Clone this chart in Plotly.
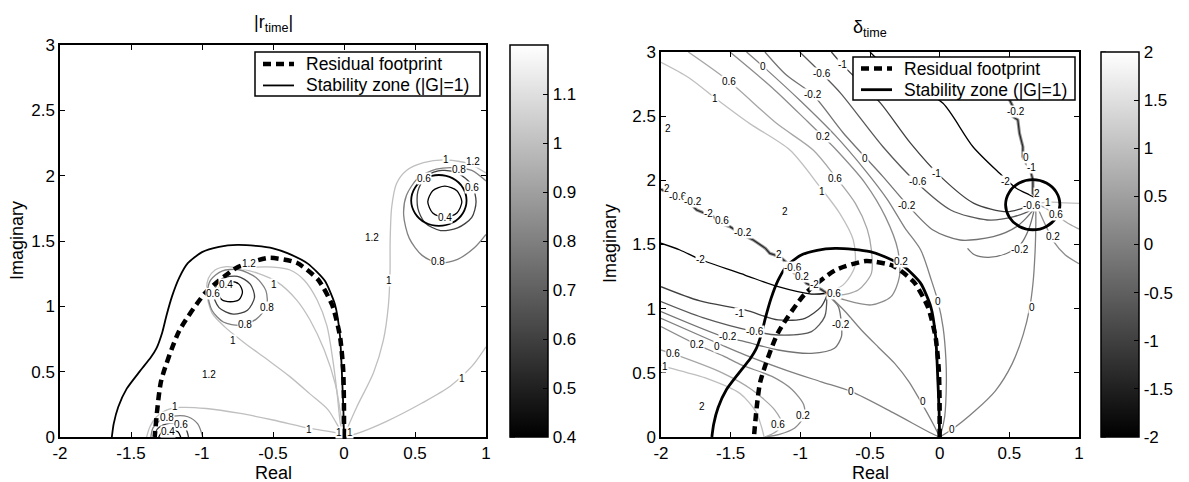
import plotly.graph_objects as go
from plotly.colors import sample_colorscale

FONT = "Liberation Sans, Arial, Helvetica, sans-serif"
GRAY = [[0.0, "rgb(0,0,0)"], [1.0, "rgb(255,255,255)"]]
W, H = 1189, 482

# ---------------- shared curves ----------------
# residual footprint of the spatial operator
footprint_re = [0.0, -0.0004, -0.006, -0.029, -0.083, -0.183, -0.333, -0.528, -0.75, -0.971, -1.161, -1.288, -1.333]
footprint_im = [0.0, 0.262, 0.522, 0.776, 1.010, 1.205, 1.333, 1.371, 1.299, 1.110, 0.811, 0.428, 0.0]

# stability boundary |G| = 1 (main lobe)
stab_re = [-1.635, -1.622, -1.59, -1.53, -1.44, -1.36, -1.32, -1.28, -1.25, -1.21, -1.16, -1.10, -1.00, -0.88,
           -0.75, -0.62, -0.50, -0.394, -0.255, -0.136, -0.064, -0.029, -0.012, -0.004, 0.0]
stab_im = [0.0, 0.10, 0.23, 0.37, 0.50, 0.61, 0.68, 0.80, 0.93, 1.08, 1.22, 1.33, 1.415, 1.455,
           1.47, 1.462, 1.444, 1.405, 1.327, 1.197, 1.016, 0.782, 0.418, 0.2, 0.0]
# stability boundary: small island around the upper right zero
island_re = [0.863, 0.837, 0.766, 0.668, 0.571, 0.50, 0.473, 0.50, 0.571, 0.668, 0.766, 0.837, 0.863]
island_im = [1.81, 1.908, 1.979, 2.005, 1.979, 1.908, 1.81, 1.713, 1.641, 1.615, 1.641, 1.713, 1.81]

legend_names = ["Residual footprint", "Stability zone (|G|=1)"]

# ---------------- |r_time| iso-lines (Real, Imag) ----------------
r1_lower = [(0.0, 0.0), (-0.03, 0.025), (-0.24, 0.066), (-0.5, 0.13), (-0.73, 0.18), (-0.97, 0.218),
            (-1.155, 0.226), (-1.25, 0.205), (-1.32, 0.155), (-1.366, 0.08), (-1.39, 0.0)]
r1_upper = [(0.0, 0.0), (-0.03, 0.06), (-0.112, 0.208), (-0.24, 0.33), (-0.381, 0.462), (-0.55, 0.6),
            (-0.7, 0.72), (-0.84, 0.843), (-0.93, 0.95), (-0.967, 1.10), (-0.955, 1.214), (-0.908, 1.278),
            (-0.826, 1.304), (-0.732, 1.291), (-0.6, 1.25), (-0.474, 1.189), (-0.333, 1.048),
            (-0.239, 0.895), (-0.139, 0.665), (-0.06, 0.4), (-0.02, 0.15), (0.0, 0.0)]
r1_inner = [(-0.732, 1.291), (-0.62, 1.30), (-0.5, 1.30), (-0.38, 1.278), (-0.28, 1.20), (-0.19, 1.05),
            (-0.12, 0.85), (-0.08, 0.6), (-0.05, 0.35), (-0.025, 0.1), (0.0, 0.0)]
r1_right = [(0.0, 0.0), (0.01, 0.03), (0.09, 0.23), (0.207, 0.49), (0.277, 0.74), (0.312, 1.0),
            (0.324, 1.25), (0.325, 1.5), (0.336, 1.76), (0.37, 1.94), (0.44, 2.04), (0.56, 2.1),
            (0.72, 2.12), (0.88, 2.09), (1.0, 2.02)]
r1_edge = [(0.0, 0.0), (0.1, 0.03), (0.3, 0.12), (0.55, 0.26), (0.75, 0.39), (0.9, 0.54), (1.0, 0.69)]

r08_lower = [(-1.36, 0.0), (-1.345, 0.07), (-1.29, 0.13), (-1.2, 0.16), (-1.1, 0.155), (-1.03, 0.1), (-0.995, 0.0)]
r08_upper = [(-0.96, 1.1), (-0.93, 0.97), (-0.85, 0.88), (-0.73, 0.855), (-0.62, 0.9), (-0.545, 1.0),
             (-0.55, 1.12), (-0.62, 1.22), (-0.74, 1.28), (-0.86, 1.27), (-0.94, 1.2), (-0.96, 1.1)]
r08_right = [(1.0, 1.96), (0.9, 2.04), (0.8, 2.06), (0.65, 2.05), (0.52, 1.98), (0.44, 1.85), (0.42, 1.7),
             (0.46, 1.52), (0.55, 1.39), (0.67, 1.33), (0.8, 1.36), (0.92, 1.45), (1.0, 1.55)]

r06_lower = [(-1.335, 0.0), (-1.315, 0.06), (-1.25, 0.1), (-1.17, 0.105), (-1.115, 0.065), (-1.095, 0.0)]
r06_upper = [(-0.92, 1.1), (-0.88, 0.99), (-0.78, 0.94), (-0.68, 0.97), (-0.63, 1.07), (-0.66, 1.17),
             (-0.75, 1.23), (-0.86, 1.21), (-0.92, 1.1)]
r06_right = [(0.93, 1.8), (0.9, 1.93), (0.8, 2.02), (0.69, 2.04), (0.58, 2.0), (0.52, 1.88), (0.52, 1.75),
             (0.57, 1.64), (0.68, 1.58), (0.8, 1.6), (0.9, 1.68), (0.93, 1.8)]

r04_lower = [(-1.305, 0.0), (-1.28, 0.04), (-1.22, 0.058), (-1.17, 0.04), (-1.15, 0.0)]
r04_upper = [(-0.89, 1.11), (-0.86, 1.05), (-0.80, 1.035), (-0.74, 1.05), (-0.715, 1.11), (-0.74, 1.17),
             (-0.80, 1.19), (-0.86, 1.17), (-0.89, 1.11)]
r04_right = [(0.83, 1.8), (0.795, 1.885), (0.71, 1.92), (0.625, 1.885), (0.59, 1.8), (0.625, 1.715),
             (0.71, 1.68), (0.795, 1.715), (0.83, 1.8)]

r_levels = [(1.0, r1_lower), (1.0, r1_upper), (1.0, r1_inner), (1.0, r1_right), (1.0, r1_edge),
            (0.8, r08_lower), (0.8, r08_upper), (0.8, r08_right),
            (0.6, r06_lower), (0.6, r06_upper), (0.6, r06_right),
            (0.4, r04_lower), (0.4, r04_upper), (0.4, r04_right)]

r_labels = [("1", -0.25, 0.06), ("1", -1.19, 0.232), ("1", -0.78, 0.74), ("1", -0.49, 1.17), ("1", 0.32, 1.2),
            ("1", 0.72, 2.12), ("1", 0.83, 0.45), ("1", -0.035, 0.035), ("1", 0.045, 0.035),
            ("0.8", -1.25, 0.148), ("0.6", -1.15, 0.095), ("0.4", -1.24, 0.04),
            ("0.8", -0.54, 0.99), ("0.8", -0.70, 0.86), ("0.6", -0.92, 1.10), ("0.4", -0.83, 1.17),
            ("1.2", -0.95, 0.48), ("1.2", 0.2, 1.53), ("1.2", 0.91, 2.11), ("1.2", -0.67, 1.33),
            ("0.8", 0.81, 2.05), ("0.8", 0.66, 1.34), ("0.6", 0.56, 1.98), ("0.6", 0.9, 1.91), ("0.4", 0.71, 1.68)]

# ---------------- delta_time iso-lines (Real, Imag) ----------------
d1_top = [(-2.0, 2.92), (-1.8, 2.8), (-1.61, 2.64), (-1.36, 2.44), (-1.075, 2.236), (-0.86, 1.95),
          (-0.717, 1.743), (-0.62, 1.535), (-0.609, 1.327), (-0.681, 1.197), (-0.777, 1.132), (-0.81, 1.12)]
d06_top = [(-1.804, 3.0), (-1.51, 2.77), (-1.171, 2.444), (-0.908, 2.236), (-0.749, 2.029), (-0.605, 1.821),
           (-0.52, 1.62), (-0.49, 1.457), (-0.49, 1.275), (-0.585, 1.145), (-0.72, 1.105), (-0.81, 1.115)]
d02_top = [(-1.505, 3.0), (-1.2, 2.72), (-0.95, 2.46), (-0.836, 2.34), (-0.741, 2.236), (-0.534, 1.977),
           (-0.39, 1.717), (-0.3, 1.457), (-0.289, 1.249), (-0.349, 1.094), (-0.49, 1.029), (-0.681, 1.068),
           (-0.81, 1.115)]
d0_top = [(-1.386, 3.0), (-1.266, 2.886), (-1.0, 2.62), (-0.75, 2.35), (-0.536, 2.08), (-0.375, 1.85),
          (-0.25, 1.63), (-0.136, 1.457), (-0.06, 1.223), (-0.012, 1.055), (0.025, 0.85), (0.045, 0.6),
          (0.048, 0.418), (0.036, 0.158), (0.01, 0.03), (0.0, 0.0)]
dm02_top = [(-1.254, 3.0), (-1.1, 2.82), (-0.908, 2.665), (-0.693, 2.371), (-0.407, 2.029), (-0.22, 1.795),
            (-0.048, 1.613), (0.146, 1.535), (0.385, 1.561), (0.552, 1.639), (0.671, 1.769), (0.69, 1.82)]
dm06_top = [(-1.004, 3.0), (-0.848, 2.834), (-0.71, 2.678), (-0.407, 2.262), (-0.16, 1.977), (0.079, 1.769),
            (0.342, 1.691), (0.533, 1.717), (0.652, 1.769), (0.69, 1.82)]
dm1_top = [(-0.777, 3.0), (-0.693, 2.896), (-0.55, 2.74), (-0.423, 2.6), (-0.208, 2.288), (0.007, 2.029),
           (0.246, 1.821), (0.485, 1.756), (0.628, 1.795), (0.69, 1.82)]
dm2_top = [(-0.5, 3.0), (-0.3, 2.8), (-0.15, 2.72), (0.024, 2.6), (0.239, 2.262), (0.43, 2.055),
           (0.55, 1.938), (0.645, 1.886), (0.69, 1.86)]

d1_z2 = [(0.69, 1.82), (0.8, 1.83), (0.9, 1.825), (1.0, 1.82)]
d06_z2 = [(0.69, 1.82), (0.78, 1.77), (0.86, 1.71), (0.93, 1.66), (1.0, 1.62)]
d02_z2 = [(0.69, 1.82), (0.76, 1.65), (0.82, 1.52), (0.9, 1.42), (1.0, 1.35)]
d0_z2 = [(0.0, 0.0), (0.09, 0.06), (0.25, 0.2), (0.4, 0.36), (0.52, 0.57), (0.6, 0.8), (0.645, 1.0),
         (0.67, 1.2), (0.685, 1.45), (0.69, 1.65), (0.69, 1.82)]
dm02_z2 = [(0.69, 1.82), (0.64, 1.62), (0.58, 1.5), (0.48, 1.43), (0.35, 1.40), (0.25, 1.42), (0.2, 1.47)]

dm2_left = [(-2.0, 1.51), (-1.864, 1.457), (-1.72, 1.385), (-1.398, 1.262), (-1.159, 1.171), (-0.92, 1.114),
            (-0.81, 1.12)]
dm1_left = [(-2.0, 1.171), (-1.72, 1.06), (-1.398, 0.99), (-1.159, 0.912), (-0.967, 0.925), (-0.85, 1.016),
            (-0.81, 1.1)]
dm06_left = [(-2.0, 1.055), (-1.7, 0.93), (-1.326, 0.821), (-1.159, 0.795), (-0.92, 0.821), (-0.825, 0.938),
             (-0.81, 1.1)]
dm02_left = [(-2.0, 0.977), (-1.541, 0.777), (-1.398, 0.743), (-1.159, 0.678), (-0.92, 0.652), (-0.755, 0.691),
             (-0.705, 0.782), (-0.705, 0.873), (-0.727, 1.016), (-0.81, 1.11)]
d0_left = [(-2.0, 0.925), (-1.565, 0.717), (-1.398, 0.64), (-1.1, 0.52), (-0.85, 0.43), (-0.633, 0.353),
           (-0.325, 0.184), (-0.06, 0.029), (0.0, 0.0)]
d0_z1 = [(-0.81, 1.12), (-0.68, 0.98), (-0.562, 0.834), (-0.44, 0.70), (-0.323, 0.574), (-0.22, 0.43),
         (-0.156, 0.314), (-0.036, 0.08), (0.0, 0.0)]
d02_left = [(-2.0, 0.86), (-1.744, 0.72), (-1.55, 0.63), (-1.42, 0.56), (-1.2, 0.47), (-1.06, 0.37),
            (-0.975, 0.25), (-0.975, 0.16), (-1.04, 0.07), (-1.15, 0.02), (-1.255, 0.0)]
d06_left = [(-2.0, 0.678), (-1.912, 0.647), (-1.553, 0.496), (-1.35, 0.37), (-1.183, 0.21),
            (-1.135, 0.106), (-1.17, 0.045), (-1.255, 0.0)]
d1_left = [(-2.0, 0.561), (-1.971, 0.548), (-1.673, 0.457), (-1.434, 0.34), (-1.32, 0.2), (-1.279, 0.08),
           (-1.26, 0.0)]

d_levels = [(1.0, d1_top), (0.6, d06_top), (0.2, d02_top), (0.0, d0_top), (-0.2, dm02_top),
            (-0.6, dm06_top), (-1.0, dm1_top), (-2.0, dm2_top),
            (1.0, d1_z2), (0.6, d06_z2), (0.2, d02_z2), (0.0, d0_z2), (-0.2, dm02_z2),
            (-2.0, dm2_left), (-1.0, dm1_left), (-0.6, dm06_left), (-0.2, dm02_left), (0.0, d0_left),
            (0.0, d0_z1), (0.2, d02_left), (0.6, d06_left), (1.0, d1_left)]

# phase jumps (all levels pile up along these)
cut_left = [(-0.81, 1.12), (-0.85, 1.15), (-0.90, 1.17), (-0.956, 1.197), (-0.99, 1.24), (-1.075, 1.301),
            (-1.10, 1.36), (-1.147, 1.405), (-1.219, 1.431), (-1.25, 1.47), (-1.338, 1.535), (-1.42, 1.58),
            (-1.505, 1.639), (-1.56, 1.66), (-1.625, 1.717), (-1.744, 1.769), (-1.80, 1.83), (-1.864, 1.873),
            (-1.94, 1.90), (-2.0, 1.93)]
cut_right = [(0.69, 1.86), (0.669, 1.899), (0.669, 2.003), (0.645, 2.106), (0.621, 2.132), (0.597, 2.184),
             (0.597, 2.262), (0.573, 2.366), (0.561, 2.470), (0.526, 2.496), (0.526, 2.574), (0.502, 2.626),
             (0.49, 2.75)]

d_labels = [("0.6", -1.51, 2.77), ("1", -1.613, 2.639), ("0", -1.266, 2.886), ("-0.6", -0.848, 2.834),
            ("-0.2", -0.908, 2.665), ("-1", -0.70, 2.90), ("0.2", -0.836, 2.34), ("0.6", -0.753, 2.016),
            ("1", -0.844, 1.914), ("0", -0.538, 2.169), ("-1", -0.02, 2.05), ("-0.6", -0.156, 1.987),
            ("-0.2", -0.238, 1.805), ("2", -1.947, 2.405), ("2", -1.111, 1.756), ("0.2", -0.279, 1.366),
            ("0", -0.012, 1.055), ("-2", -1.72, 1.38), ("-1", -1.434, 0.964), ("-0.6", -1.326, 0.821),
            ("-0.2", -1.52, 0.785), ("0", -1.60, 0.705), ("0.2", -1.744, 0.717), ("0.6", -1.912, 0.647),
            ("1", -1.971, 0.548), ("2", -1.708, 0.236), ("0.6", -1.159, 0.101), ("0.2", -0.981, 0.166),
            ("0", -0.633, 0.353), ("0", -0.12, 0.275), ("0", 0.09, 0.06), ("0", 0.664, 1.013),
            ("-0.2", -0.705, 0.873), ("0.6", -0.76, 1.12),
            ("-0.2", 0.55, 2.54), ("0", 0.62, 2.18), ("-1", 0.66, 2.10), ("-2", 0.47, 1.99), ("2", 0.70, 1.90),
            ("-0.6", 0.66, 1.80), ("1", 0.78, 1.83), ("0.6", 0.835, 1.73), ("0.2", 0.81, 1.56),
            ("-0.2", 0.58, 1.46),
            ("2", -1.96, 1.94), ("-0.6", -1.88, 1.875), ("-0.2", -1.77, 1.835), ("-2", -1.66, 1.74),
            ("0.6", -1.56, 1.69), ("-0.2", -1.41, 1.59), ("2", -1.15, 1.42), ("-0.6", -1.05, 1.32),
            ("0.2", -0.99, 1.25), ("-2", -0.90, 1.19)]

# colour scales of the two panels
r_range = (0.4, 1.2)
d_range = (-2.0, 2.0)
r_ticks = [0.4, 0.5, 0.6, 0.7, 0.8, 0.9, 1.0, 1.1]
r_ticktext = ["0.4", "0.5", "0.6", "0.7", "0.8", "0.9", "1", "1.1"]
d_ticks = [-2, -1.5, -1, -0.5, 0, 0.5, 1, 1.5, 2]
d_ticktext = ["-2", "-1.5", "-1", "-0.5", "0", "0.5", "1", "1.5", "2"]
x_ticks = [-2, -1.5, -1, -0.5, 0, 0.5, 1]
x_ticktext = ["-2", "-1.5", "-1", "-0.5", "0", "0.5", "1"]
y_ticks = [0, 0.5, 1, 1.5, 2, 2.5, 3]
y_ticktext = ["0", "0.5", "1", "1.5", "2", "2.5", "3"]


def px(x):
    return x / W


def py(y):
    return (H - y) / H


def level_color(v, lo, hi):
    return sample_colorscale(GRAY, [(v - lo) / (hi - lo)])[0]


fig = go.Figure()
shapes = []
annotations = []


def add_isolines(levels, rng, xa, ya):
    for lvl, pts in levels:
        fig.add_trace(go.Scatter(
            x=[p[0] for p in pts], y=[p[1] for p in pts], mode="lines",
            line=dict(color=level_color(lvl, *rng), width=1.3, shape="spline", smoothing=0.8),
            xaxis=xa, yaxis=ya, showlegend=False, hoverinfo="skip"))


def add_cut(pts, xa, ya):
    xs = [p[0] for p in pts]
    ys = [p[1] for p in pts]
    fig.add_trace(go.Scatter(x=xs, y=ys, mode="lines", line=dict(color="rgb(150,150,150)", width=3.2),
                             xaxis=xa, yaxis=ya, showlegend=False, hoverinfo="skip"))
    fig.add_trace(go.Scatter(x=xs, y=ys, mode="lines", line=dict(color="rgb(40,40,40)", width=1.2),
                             xaxis=xa, yaxis=ya, showlegend=False, hoverinfo="skip"))


FOOT_DASH = "8px,5px"


def add_main_curves(xa, ya, stab_width):
    fig.add_trace(go.Scatter(x=stab_re, y=stab_im, mode="lines", name=legend_names[1], showlegend=False,
                             line=dict(color="black", width=stab_width, shape="spline", smoothing=0.6),
                             xaxis=xa, yaxis=ya, hoverinfo="skip"))
    fig.add_trace(go.Scatter(x=island_re, y=island_im, mode="lines", showlegend=False,
                             line=dict(color="black", width=stab_width, shape="spline", smoothing=1.0),
                             xaxis=xa, yaxis=ya, hoverinfo="skip"))
    fig.add_trace(go.Scatter(x=footprint_re, y=footprint_im, mode="lines", name=legend_names[0], showlegend=False,
                             line=dict(color="black", width=4.5, dash=FOOT_DASH, shape="spline", smoothing=0.6),
                             xaxis=xa, yaxis=ya, hoverinfo="skip"))


def add_key(left, top, right, bottom, stab_width):
    """Boxed key in the upper right corner of a panel (pixel placement)."""
    shapes.append(dict(type="rect", xref="paper", yref="paper", x0=px(left), x1=px(right),
                       y0=py(bottom), y1=py(top), fillcolor="white", line=dict(color="black", width=1.5),
                       layer="above"))
    rows = [top + 0.27 * (bottom - top), top + 0.76 * (bottom - top)]
    styles = [dict(color="black", width=4.5, dash=FOOT_DASH), dict(color="black", width=stab_width)]
    for name, yrow, st in zip(legend_names, rows, styles):
        shapes.append(dict(type="line", xref="paper", yref="paper", x0=px(left + 8), x1=px(left + 39),
                           y0=py(yrow), y1=py(yrow), line=st, layer="above"))
        annotations.append(dict(x=px(left + 49), y=py(yrow), xref="paper", yref="paper", text=name,
                                showarrow=False, xanchor="left", yanchor="middle",
                                font=dict(family=FONT, size=17.5, color="black")))


def add_colorbar(rng, ticks, ticktext, xa, ya, x0, top, bottom):
    bar = dict(x=px(x0), xanchor="left", xpad=0, y=py(bottom), yanchor="bottom", ypad=0,
               len=bottom - top, lenmode="pixels", thickness=38, thicknessmode="pixels",
               outlinecolor="black", outlinewidth=1.5, ticks="inside", ticklen=5,
               tickcolor="black", tickvals=ticks, ticktext=ticktext,
               tickfont=dict(family=FONT, size=17, color="black"))
    fig.add_trace(go.Scatter(
        x=[50], y=[50], mode="markers", xaxis=xa, yaxis=ya, showlegend=False, hoverinfo="skip",
        marker=dict(size=1, color=[rng[0]], cmin=rng[0], cmax=rng[1], colorscale=GRAY, showscale=True,
                    colorbar=bar)))
    # matching tick marks on the left edge of the bar
    for t in ticks:
        yp = bottom - (t - rng[0]) / (rng[1] - rng[0]) * (bottom - top)
        shapes.append(dict(type="line", xref="paper", yref="paper", x0=px(x0), x1=px(x0 + 5),
                           y0=py(yp), y1=py(yp), line=dict(color="black", width=1), layer="above"))


# left panel
add_isolines(r_levels, r_range, "x", "y")
add_main_curves("x", "y", 1.8)
add_colorbar(r_range, r_ticks, r_ticktext, "x", "y", 510, 45, 437)
add_key(255, 52, 480, 96, 1.8)

# right panel
add_isolines(d_levels, d_range, "x2", "y2")
add_cut(cut_left, "x2", "y2")
add_cut(cut_right, "x2", "y2")
add_main_curves("x2", "y2", 2.8)
add_colorbar(d_range, d_ticks, d_ticktext, "x2", "y2", 1101, 52, 437)
add_key(853, 57, 1075, 100, 2.8)

for txt, x, y in r_labels:
    annotations.append(dict(x=x, y=y, xref="x", yref="y", text=txt, showarrow=False, bgcolor="white",
                            borderpad=0, font=dict(family=FONT, size=10, color="black")))
for txt, x, y in d_labels:
    annotations.append(dict(x=x, y=y, xref="x2", yref="y2", text=txt, showarrow=False, bgcolor="white",
                            borderpad=0, font=dict(family=FONT, size=10, color="black")))

title_font = dict(family=FONT, size=18, color="black")
annotations += [
    dict(x=px(273), y=py(23), xref="paper", yref="paper", text="|r<sub>time</sub>|", showarrow=False,
         xanchor="center", yanchor="middle", font=title_font),
    dict(x=px(870), y=py(28), xref="paper", yref="paper", text="δ<sub>time</sub>", showarrow=False,
         xanchor="center", yanchor="middle", font=title_font),
    dict(x=px(273), y=py(473), xref="paper", yref="paper", text="Real", showarrow=False,
         xanchor="center", yanchor="middle", font=title_font),
    dict(x=px(870), y=py(473), xref="paper", yref="paper", text="Real", showarrow=False,
         xanchor="center", yanchor="middle", font=title_font),
    dict(x=px(17), y=py(241), xref="paper", yref="paper", text="Imaginary", textangle=-90, showarrow=False,
         xanchor="center", yanchor="middle", font=title_font),
    dict(x=px(610), y=py(244), xref="paper", yref="paper", text="Imaginary", textangle=-90, showarrow=False,
         xanchor="center", yanchor="middle", font=title_font),
]

axis_common = dict(showgrid=False, zeroline=False, showline=True, linecolor="black", linewidth=1.5,
                   mirror="ticks", ticks="inside", ticklen=5, tickcolor="black",
                   tickfont=dict(family=FONT, size=17, color="black"))

fig.update_layout(
    width=W, height=H, autosize=False, margin=dict(l=0, r=0, t=0, b=0, autoexpand=False),
    paper_bgcolor="white", plot_bgcolor="white", showlegend=False,
    xaxis=dict(domain=[px(60), px(486)], range=[-2, 1], tickvals=x_ticks, ticktext=x_ticktext, anchor="y", **axis_common),
    yaxis=dict(domain=[py(437), py(45)], range=[0, 3], tickvals=y_ticks, ticktext=y_ticktext, anchor="x", **axis_common),
    xaxis2=dict(domain=[px(661), px(1079)], range=[-2, 1], tickvals=x_ticks, ticktext=x_ticktext, anchor="y2", **axis_common),
    yaxis2=dict(domain=[py(437), py(52)], range=[0, 3], tickvals=y_ticks, ticktext=y_ticktext, anchor="x2", **axis_common),
    shapes=shapes,
    annotations=annotations,
)

fig.write_html("out.html")
